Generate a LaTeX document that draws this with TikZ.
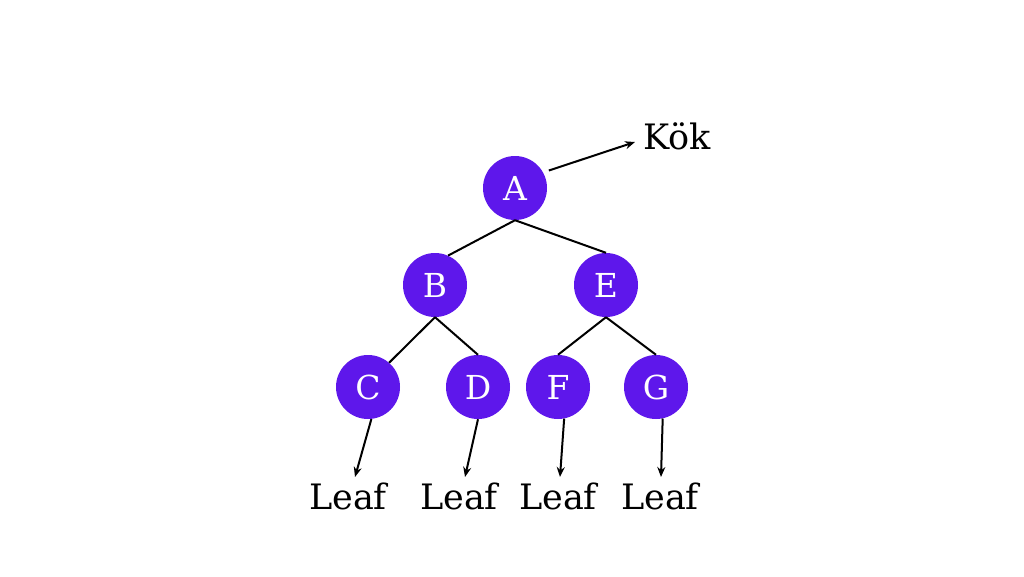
\documentclass[tikz,border=0pt]{standalone}
\usepackage{fontspec}
\setmainfont{DejaVu Serif}
\usetikzlibrary{arrows.meta}
\definecolor{nodepurple}{HTML}{5E17EB}
\begin{document}
\begin{tikzpicture}[x=1pt,y=-1pt,
  tnode/.style={circle,fill=nodepurple,minimum size=64pt,inner sep=0pt,text=white,font=\fontsize{33}{38}\selectfont},
  lbl/.style={font=\fontsize{35}{40}\selectfont,inner sep=0pt,anchor=base},
  edge/.style={line width=2pt},
  arr/.style={line width=2pt,-{Stealth[length=10pt,width=8pt]}}]
\useasboundingbox (0,0) rectangle (1024,576);
\node[tnode] (A) at (515,188) {A};
\node[tnode] (B) at (435,285) {B};
\node[tnode] (E) at (606,285) {E};
\node[tnode] (C) at (368,387) {C};
\node[tnode] (D) at (478,387) {D};
\node[tnode] (F) at (558,387) {F};
\node[tnode] (G) at (656,387) {G};
\node[lbl] (kok) at (677,149) {Kök};
\node[lbl] (l1) at (348,509) {Leaf};
\node[lbl] (l2) at (459,509) {Leaf};
\node[lbl] (l3) at (558,509) {Leaf};
\node[lbl] (l4) at (660,509) {Leaf};
\coordinate (kt) at (635,142);
\coordinate (t1) at (355,477);
\coordinate (t2) at (465,477);
\coordinate (t3) at (560,477);
\coordinate (t4) at (661,477);
\draw[edge] (A.south) -- (B.66);
\draw[edge] (A.south) -- (E.north);
\draw[edge] (B.south) -- (C.49);
\draw[edge] (B.south) -- (D.north);
\draw[edge] (E.south) -- (F.north);
\draw[edge] (E.south) -- (G.north);
\draw[arr,shorten <=6pt] (A.29) -- (kt);
\draw[arr] (C.-84) -- (t1);
\draw[arr] (D.-90) -- (t2);
\draw[arr] (F.-79) -- (t3);
\draw[arr] (G.-78) -- (t4);
\end{tikzpicture}
\end{document}
